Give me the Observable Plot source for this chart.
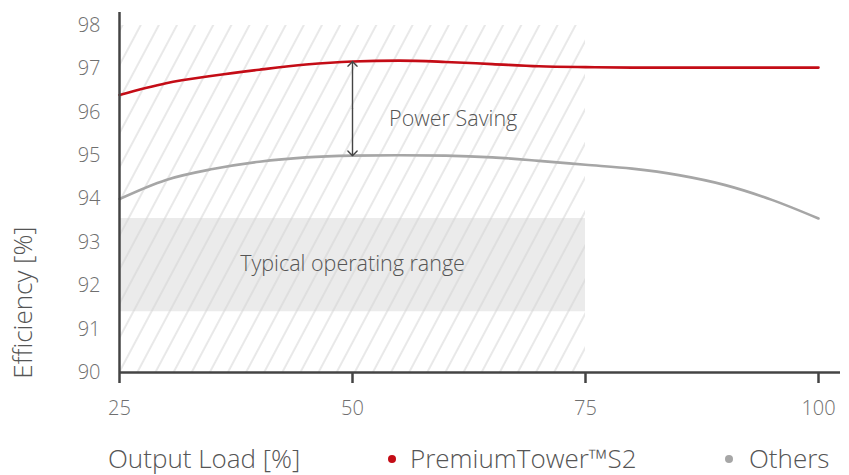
<!DOCTYPE html>
<html>
<head>
<meta charset="utf-8">
<script src="https://cdn.jsdelivr.net/npm/d3@7"></script>
<script src="https://cdn.jsdelivr.net/npm/@observablehq/plot@0.6"></script>
<style>
  html, body { margin: 0; padding: 0; background: #fff; }
  #wrap { position: relative; width: 849px; height: 475px; font-family: "Open Sans", sans-serif; }
  #bottom { position: relative; width: 849px; height: 45px; }
  #bottom span { position: absolute; font-size: 26px; line-height: 30px; font-weight: 300; color: #555; white-space: nowrap; }
  #bottom i { position: absolute; width: 8px; height: 8px; border-radius: 50%; }
</style>
</head>
<body>
<div id="wrap">
  <div id="chart"></div>
  <div id="bottom"></div>
</div>
<script>
// ---- data ----
const loads   = [25, 30, 35, 40, 45, 50, 55, 60, 65, 70, 75, 80, 85, 90, 95, 100];
const premium = [96.40, 96.67, 96.84, 96.98, 97.10, 97.17, 97.19, 97.16, 97.11, 97.06, 97.04, 97.03, 97.03, 97.03, 97.03, 97.03];
const others  = [94.00, 94.44, 94.69, 94.86, 94.96, 95.00, 95.01, 95.00, 94.96, 94.88, 94.79, 94.70, 94.55, 94.32, 93.98, 93.55];
const seriesNames  = ["PremiumTower™S2", "Others"];
const seriesColors = ["#c40c16", "#a6a6a6"];
const xTicks = [25, 50, 75, 100];
const yTicks = [90, 91, 92, 93, 94, 95, 96, 97, 98];
const hatchRange = {x1: 25, x2: 75, y1: 90, y2: 98};
const typicalBand = {x1: 25, x2: 75, y1: 91.4, y2: 93.55};
const savingArrow = {x: 50, top: 97.17, bottom: 95.0};
const notes = [
  {label: "Power Saving", x: 60.8, y: 95.85},
  {label: "Typical operating range", x: 50, y: 92.5}
];
const xLabel = "Output Load [%]";
const yLabel = "Efficiency [%]";

const premiumData = loads.map((x, i) => ({x, y: premium[i]}));
const othersData = loads.map((x, i) => ({x, y: others[i]}));
const mid = (savingArrow.top + savingArrow.bottom) / 2;
const arrows = [
  {x1: savingArrow.x, y1: mid, x2: savingArrow.x, y2: savingArrow.top},
  {x1: savingArrow.x, y1: mid, x2: savingArrow.x, y2: savingArrow.bottom}
];

const font = '"Open Sans", sans-serif';

const plot = Plot.plot({
  width: 849,
  height: 430,
  marginLeft: 119,
  marginRight: 9,
  marginTop: 12,
  marginBottom: 58,
  style: {fontFamily: font, background: "#fff", overflow: "visible"},
  x: {domain: [25, 100], range: [119, 818]},
  y: {domain: [90, 98.3]},
  marks: [
    Plot.rect([typicalBand], {x1: "x1", x2: "x2", y1: "y1", y2: "y2", fill: "#ebebeb"}),
    Plot.rect([hatchRange], {x1: "x1", x2: "x2", y1: "y1", y2: "y2", fill: "url(#hatch)", className: "hatch"}),
    Plot.line(othersData, {x: "x", y: "y", stroke: seriesColors[1], strokeWidth: 2.6, curve: "monotone-x"}),
    Plot.line(premiumData, {x: "x", y: "y", stroke: seriesColors[0], strokeWidth: 2.6, curve: "monotone-x"}),
    Plot.arrow(arrows, {x1: "x1", y1: "y1", x2: "x2", y2: "y2", stroke: "#444", strokeWidth: 1.4, headLength: 7, headAngle: 90, insetEnd: 0}),
    Plot.text(notes, {x: "x", y: "y", text: "label", fontSize: 21.5, fontWeight: 300, fill: "#555", textAnchor: "middle"}),
    Plot.axisY({ticks: yTicks, tickSize: 0, tickPadding: 19, label: null, fontSize: 20, fontWeight: 300, color: "#6f6f6f", tickFormat: d => d}),
    Plot.axisX({ticks: xTicks, tickSize: 11, tickPadding: 17, label: null, fontSize: 20, fontWeight: 300, color: "#6f6f6f", stroke: "#444", strokeWidth: 2.5, tickFormat: d => d}),
    Plot.ruleX([25], {stroke: "#444", strokeWidth: 2.5}),
    Plot.ruleY([90], {stroke: "#444", strokeWidth: 2.5}),
    Plot.text([yLabel], {frameAnchor: "bottom-left", text: d => d, rotate: -90, dx: -88, dy: -70, fontSize: 26, fontWeight: 300, fill: "#555", textAnchor: "middle"})
  ]
});

// hatch pattern definition
const ns = "http://www.w3.org/2000/svg";
const defs = document.createElementNS(ns, "defs");
const pat = document.createElementNS(ns, "pattern");
pat.setAttribute("id", "hatch");
pat.setAttribute("patternUnits", "userSpaceOnUse");
pat.setAttribute("width", "16");
pat.setAttribute("height", "16");
pat.setAttribute("patternTransform", "rotate(28)");
const ln = document.createElementNS(ns, "line");
ln.setAttribute("x1", "8"); ln.setAttribute("x2", "8");
ln.setAttribute("y1", "0"); ln.setAttribute("y2", "16");
ln.setAttribute("stroke", "#d2d2d2");
ln.setAttribute("stroke-width", "1");
pat.appendChild(ln);
defs.appendChild(pat);
plot.insertBefore(defs, plot.firstChild);
plot.querySelectorAll(".hatch rect").forEach(r => r.setAttribute("fill", "url(#hatch)"));

document.getElementById("chart").appendChild(plot);

// bottom row: x label + legend
const bottom = document.getElementById("bottom");
function addSpan(text, left) {
  const s = document.createElement("span");
  s.textContent = text;
  s.style.left = left + "px";
  s.style.top = "13px";
  bottom.appendChild(s);
}
function addDot(color, cx) {
  const d = document.createElement("i");
  d.style.background = color;
  d.style.left = (cx - 4) + "px";
  d.style.top = (29 - 4) + "px";
  bottom.appendChild(d);
}
addSpan(xLabel, 108);
addDot(seriesColors[0], 392);
addSpan(seriesNames[0], 410);
addDot(seriesColors[1], 729);
addSpan(seriesNames[1], 749);
</script>
</body>
</html>
